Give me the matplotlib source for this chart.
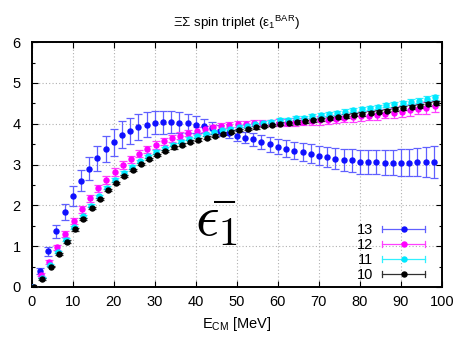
import numpy as np
import matplotlib
matplotlib.use("Agg")
import matplotlib.pyplot as plt
from matplotlib.ticker import MultipleLocator
from matplotlib.lines import Line2D
from matplotlib.legend_handler import HandlerBase

plt.rcParams['font.family'] = ['Liberation Sans', 'DejaVu Sans']

# Centre-of-mass energy grid [MeV]
energy = np.arange(0, 100, 2)

# Small horizontal offsets so the four series stay readable
energy_shift = {"13": 0.0, "12": 0.2, "11": 0.4, "10": 0.6}

eps_13 = [0.00, 0.39, 0.87, 1.36, 1.83, 2.23, 2.60, 2.90, 3.15, 3.38,
          3.55, 3.73, 3.83, 3.92, 3.98, 4.03, 4.04, 4.04, 4.03, 4.01,
          3.98, 3.95, 3.90, 3.83, 3.77, 3.71, 3.66, 3.62, 3.55, 3.50,
          3.44, 3.39, 3.34, 3.30, 3.27, 3.22, 3.19, 3.14, 3.11, 3.10,
          3.07, 3.06, 3.06, 3.05, 3.05, 3.05, 3.05, 3.06, 3.06, 3.06]
err_13 = [0.02, 0.08, 0.12, 0.16, 0.20, 0.24, 0.26, 0.28, 0.30, 0.32,
          0.33, 0.33, 0.32, 0.31, 0.30, 0.29, 0.28, 0.27, 0.25, 0.23,
          0.20, 0.17, 0.15, 0.13, 0.12, 0.13, 0.14, 0.16, 0.17, 0.18,
          0.19, 0.20, 0.21, 0.22, 0.23, 0.24, 0.25, 0.26, 0.27, 0.28,
          0.29, 0.29, 0.30, 0.31, 0.31, 0.32, 0.33, 0.35, 0.37, 0.39]

eps_12 = [0.00, 0.30, 0.62, 0.97, 1.30, 1.62, 1.90, 2.17, 2.42, 2.62,
          2.82, 2.99, 3.13, 3.27, 3.37, 3.48, 3.57, 3.64, 3.71, 3.77,
          3.83, 3.87, 3.91, 3.94, 3.97, 3.99, 4.00, 4.01, 4.02, 4.02,
          4.03, 4.03, 4.04, 4.05, 4.06, 4.08, 4.10, 4.12, 4.14, 4.16,
          4.18, 4.20, 4.22, 4.25, 4.27, 4.30, 4.33, 4.36, 4.39, 4.43]
err_12 = [0.01, 0.04, 0.05, 0.06, 0.07, 0.08, 0.08, 0.09, 0.09, 0.09,
          0.09, 0.09, 0.09, 0.09, 0.09, 0.09, 0.09, 0.08, 0.08, 0.08,
          0.08, 0.08, 0.07, 0.07, 0.07, 0.07, 0.07, 0.07, 0.08, 0.08,
          0.08, 0.08, 0.09, 0.09, 0.09, 0.10, 0.10, 0.10, 0.10, 0.11,
          0.11, 0.11, 0.12, 0.12, 0.12, 0.13, 0.13, 0.13, 0.14, 0.14]

eps_11 = [0.00, 0.23, 0.54, 0.86, 1.16, 1.46, 1.73, 1.99, 2.22, 2.43,
          2.62, 2.79, 2.94, 3.08, 3.20, 3.31, 3.40, 3.49, 3.56, 3.63,
          3.69, 3.74, 3.79, 3.84, 3.88, 3.92, 3.95, 3.99, 4.02, 4.05,
          4.08, 4.10, 4.13, 4.15, 4.18, 4.21, 4.24, 4.26, 4.30, 4.33,
          4.36, 4.39, 4.42, 4.45, 4.48, 4.51, 4.54, 4.57, 4.61, 4.65]
err_11 = [0.01, 0.02, 0.03, 0.03, 0.03, 0.04, 0.04, 0.04, 0.04, 0.04,
          0.04, 0.04, 0.04, 0.04, 0.04, 0.04, 0.04, 0.04, 0.04, 0.04,
          0.04, 0.04, 0.04, 0.04, 0.04, 0.04, 0.04, 0.04, 0.04, 0.04,
          0.05, 0.05, 0.05, 0.05, 0.05, 0.05, 0.05, 0.05, 0.05, 0.05,
          0.05, 0.05, 0.05, 0.05, 0.06, 0.06, 0.06, 0.06, 0.06, 0.06]

eps_10 = [0.00, 0.20, 0.50, 0.81, 1.11, 1.41, 1.67, 1.93, 2.16, 2.37,
          2.55, 2.72, 2.87, 3.02, 3.13, 3.24, 3.33, 3.42, 3.49, 3.56,
          3.61, 3.66, 3.71, 3.76, 3.81, 3.85, 3.87, 3.91, 3.95, 3.97,
          4.00, 4.01, 4.04, 4.06, 4.08, 4.11, 4.13, 4.16, 4.19, 4.22,
          4.24, 4.27, 4.30, 4.32, 4.36, 4.39, 4.42, 4.44, 4.48, 4.51]
err_10 = [0.01, 0.02, 0.02, 0.03, 0.03, 0.03, 0.03, 0.03, 0.03, 0.03,
          0.03, 0.03, 0.03, 0.03, 0.03, 0.03, 0.03, 0.03, 0.03, 0.03,
          0.03, 0.03, 0.03, 0.03, 0.03, 0.03, 0.03, 0.03, 0.03, 0.03,
          0.04, 0.04, 0.04, 0.04, 0.04, 0.04, 0.04, 0.04, 0.04, 0.04,
          0.04, 0.04, 0.04, 0.04, 0.04, 0.05, 0.05, 0.05, 0.05, 0.05]

series = [
    ("13", eps_13, err_13, "#1010ff", "#6060ff"),
    ("12", eps_12, err_12, "#ff00ff", "#ff40ff"),
    ("11", eps_11, err_11, "#00e8ff", "#30f0ff"),
    ("10", eps_10, err_10, "#000000", "#303030"),
]


class HorizontalErrorKey(HandlerBase):
    """Legend key: horizontal bar with end caps and a dot in the middle."""

    def create_artists(self, legend, orig_handle, xdescent, ydescent,
                       width, height, fontsize, trans):
        col = orig_handle.get_color()
        ecol = orig_handle.get_markeredgecolor()
        x0 = -xdescent
        x1 = x0 + width
        y = height / 2.0 - ydescent
        c = 0.22 * fontsize
        bar = Line2D([x0, x1], [y, y], color=ecol, lw=0.9)
        capl = Line2D([x0, x0], [y - c, y + c], color=ecol, lw=0.9)
        capr = Line2D([x1, x1], [y - c, y + c], color=ecol, lw=0.9)
        dot = Line2D([(x0 + x1) / 2.0], [y], marker='o', ms=3.6,
                     color=col, lw=0)
        arts = [bar, capl, capr, dot]
        for a in arts:
            a.set_transform(trans)
        return arts


fig = plt.figure(figsize=(4.61, 3.40), dpi=100)
ax = fig.add_axes([0.0688, 0.156, 0.890, 0.720])

proxies = []
for label, vals, errs, col, ecol in series:
    ax.errorbar(energy + energy_shift[label], vals, yerr=errs,
                fmt='o', ms=3.6, color=col, ecolor=ecol, elinewidth=0.9,
                capsize=2.6, capthick=0.9, zorder=3)
    proxies.append(Line2D([], [], color=col, markeredgecolor=ecol,
                          label=label))

ax.set_xlim(0, 100)
ax.set_ylim(0, 6)
ax.xaxis.set_major_locator(MultipleLocator(10))
ax.yaxis.set_major_locator(MultipleLocator(1))
ax.yaxis.set_minor_locator(MultipleLocator(0.5))
ax.tick_params(which='both', direction='in', top=True, right=True,
               labelsize=10.5)
ax.tick_params(axis='y', pad=8)
ax.tick_params(axis='x', pad=6)
ax.tick_params(which='major', length=4, width=0.8)
ax.tick_params(which='minor', length=2.5, width=0.8)
ax.grid(True, which='major', color='#b0b0b0', linestyle=(0, (1, 2)),
        linewidth=0.8)
for sp in ax.spines.values():
    sp.set_linewidth(1.4)

ax.set_xlabel(r'E$_\mathregular{CM}$ [MeV]', fontsize=10.5, labelpad=4)
ax.set_title(r'ΞΣ spin triplet (ε$_\mathregular{1}$$^\mathregular{BAR}$)',
             fontsize=9.6, pad=11)

ax.text(0.449, 0.27, r'$\bar{\epsilon_1}$', transform=ax.transAxes,
        fontsize=42, math_fontfamily='cm', ha='center', va='center',
        zorder=4)

ax.legend(handles=proxies, handler_map={Line2D: HorizontalErrorKey()},
          loc='lower right', bbox_to_anchor=(0.988, -0.029),
          frameon=False, markerfirst=False,
          fontsize=10.5, handlelength=3.0, labelspacing=0.08,
          borderaxespad=0.4, handletextpad=0.6)

fig.savefig('out.png', dpi=100)
